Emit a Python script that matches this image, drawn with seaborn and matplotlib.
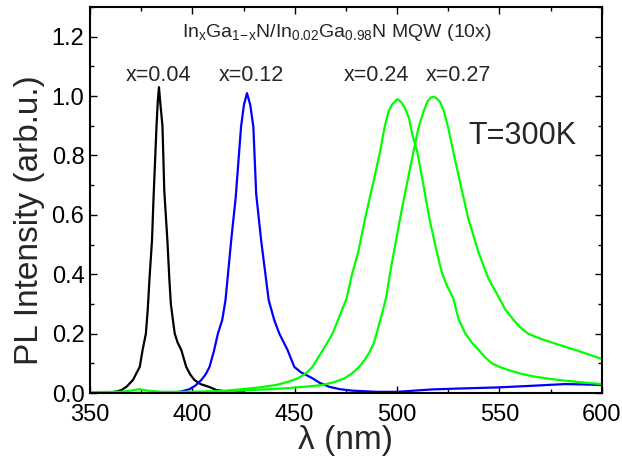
import matplotlib
matplotlib.use("Agg")
import matplotlib.pyplot as plt
import seaborn as sns
import pandas as pd
from matplotlib.ticker import MultipleLocator, FormatStrFormatter

# ---- data ----
lam_004 = [350, 355, 360, 363, 365.4, 368, 371, 374.3, 375.7, 377.3, 378.2, 379.2, 380.3, 381.0,
           382.5, 383.1, 383.7, 384.3, 385.4, 386.3, 387.8, 388.8, 389.5, 390.5, 391.4, 392.8,
           394.6, 397, 399, 401, 404, 408.4, 411.7, 416, 420, 425]
int_004 = [0.0, 0.0, 0.002, 0.005, 0.010, 0.022, 0.044, 0.088, 0.145, 0.20, 0.28, 0.40, 0.515, 0.65,
           0.90, 0.98, 1.03, 0.98, 0.90, 0.68, 0.515, 0.38, 0.30, 0.246, 0.20, 0.17,
           0.145, 0.088, 0.062, 0.044, 0.030, 0.020, 0.010, 0.006, 0.004, 0.002]

lam_012 = [370, 387, 392, 395, 398.7, 401.5, 404.4, 406.5, 408.4, 410.5, 412.5, 414.6, 416.2, 419,
           421.2, 423.8, 425.2, 426.7, 428.3, 429.8, 431.2, 433.6, 437.3, 440, 442.5, 446.5, 449.8,
           453, 458.6, 462, 466.8, 472, 478, 490, 500, 517, 530, 550, 565, 582, 590, 600]
int_012 = [0.0, 0.0, 0.002, 0.006, 0.013, 0.025, 0.044, 0.063, 0.088, 0.14, 0.20, 0.246, 0.313, 0.515,
           0.66, 0.897, 0.97, 1.01, 0.97, 0.897, 0.67, 0.515, 0.313, 0.246, 0.20, 0.145, 0.088,
           0.070, 0.050, 0.035, 0.021, 0.013, 0.008, 0.004, 0.004, 0.012, 0.015, 0.019, 0.024,
           0.030, 0.029, 0.027]

lam_024 = [350, 365, 370, 374, 378, 385, 400, 414.7, 423, 433, 440.9, 446.5, 451.4, 455.5, 458.7,
           462.8, 466, 468.5, 472, 475.4, 478, 481.1, 484.4, 488.1, 491.7, 493.8, 495.8, 497.4,
           500.1, 502, 503.9, 505.9, 507.5, 509.9, 512.9, 515.8, 519.4, 522, 524.5, 527.5, 530,
           533.4, 536.5, 539.9, 543, 546.4, 550, 554.5, 560, 565.8, 572, 578.8, 590, 600]
int_024 = [0.003, 0.004, 0.008, 0.013, 0.008, 0.004, 0.004, 0.007, 0.012, 0.019, 0.027, 0.037, 0.049,
           0.066, 0.088, 0.134, 0.17, 0.20, 0.26, 0.319, 0.40, 0.476, 0.588, 0.70, 0.812, 0.891,
           0.947, 0.97, 0.99, 0.98, 0.959, 0.925, 0.869, 0.812, 0.70, 0.588, 0.476, 0.403, 0.36,
           0.319, 0.25, 0.20, 0.17, 0.145, 0.12, 0.10, 0.088, 0.077, 0.066, 0.057, 0.050, 0.044,
           0.036, 0.030]

lam_027 = [405, 423, 435, 445.8, 455, 463.6, 469, 474.2, 478, 481.5, 484, 486.3, 488.5, 490, 492,
           494.6, 496.5, 498.5, 501.5, 504.7, 508.0, 510.4, 512.9, 514.8, 516.5, 518.3, 521, 523,
           525.1, 527.5, 531.1, 534.8, 539.7, 544.6, 550, 553, 557, 560, 564, 570, 577, 588, 600]
int_027 = [0.003, 0.008, 0.012, 0.016, 0.021, 0.027, 0.036, 0.049, 0.066, 0.088, 0.11, 0.134, 0.165,
           0.20, 0.25, 0.319, 0.40, 0.476, 0.588, 0.70, 0.812, 0.891, 0.947, 0.981, 0.995, 0.998,
           0.981, 0.947, 0.891, 0.812, 0.70, 0.588, 0.476, 0.386, 0.319, 0.28, 0.246, 0.222, 0.20,
           0.183, 0.167, 0.143, 0.115]

series_names = ["x=0.04", "x=0.12", "x=0.24", "x=0.27"]
series_colors = ["#000000", "#0000ff", "#00ff00", "#00ff00"]
label_lam = [383.6, 429.0, 490.0, 529.8]
title_text = r"$\mathregular{In_xGa_{1\!-\!x}N/In_{0.02}Ga_{0.98}N}$ MQW (10x)"

# ---- build table ----
frames = []
for name, lam, inten in zip(series_names, [lam_004, lam_012, lam_024, lam_027],
                            [int_004, int_012, int_024, int_027]):
    frames.append(pd.DataFrame({"wavelength": lam, "intensity": inten, "sample": name}))
df = pd.concat(frames, ignore_index=True)

sns.set_style("ticks")
plt.rcParams["font.family"] = ["Liberation Sans", "DejaVu Sans"]
plt.rcParams["mathtext.fontset"] = "custom"
plt.rcParams["mathtext.rm"] = "Liberation Sans"
plt.rcParams["mathtext.it"] = "Liberation Sans"

fig = plt.figure(figsize=(6.22, 4.58), dpi=100)
ax = fig.add_axes([90 / 622, 65 / 458, (601.7 - 90) / 622, (393 - 7) / 458])

sns.lineplot(data=df, x="wavelength", y="intensity", hue="sample",
             palette=dict(zip(series_names, series_colors)), sort=False,
             linewidth=1.6, legend=False, ax=ax, estimator=None)
for ln in ax.lines:
    ln.set_solid_joinstyle("round")

ax.set_xlim(350, 600)
ax.set_ylim(0, 1.30)
ax.xaxis.set_major_locator(MultipleLocator(50))
ax.xaxis.set_minor_locator(MultipleLocator(25))
ax.yaxis.set_major_locator(MultipleLocator(0.2))
ax.yaxis.set_minor_locator(MultipleLocator(0.1))
ax.yaxis.set_major_formatter(FormatStrFormatter("%.1f"))
ax.tick_params(which="both", direction="in", top=True, right=True, width=1.0,
               labelsize=17, colors="black")
ax.tick_params(which="major", length=5)
ax.tick_params(which="minor", length=3)
ax.tick_params(axis="x", which="major", pad=8)
ax.tick_params(axis="y", which="major", pad=4)
for s in ax.spines.values():
    s.set_linewidth(1.5)
    s.set_color("black")

ax.set_xlabel("λ (nm)", fontsize=24, labelpad=-1)
ax.set_ylabel("PL Intensity (arb.u.)", fontsize=24)
ax.yaxis.set_label_coords(-0.088, 0.448)

for name, lx in zip(series_names, label_lam):
    ax.text(lx, 1.07, name, ha="center", va="center", fontsize=15.5)
ax.text(561.3, 0.864, "T=300K", ha="center", va="center", fontsize=22)
ax.text(470.5, 1.199, title_text, ha="center", va="baseline", fontsize=14)

fig.savefig("out.png", dpi=100)
